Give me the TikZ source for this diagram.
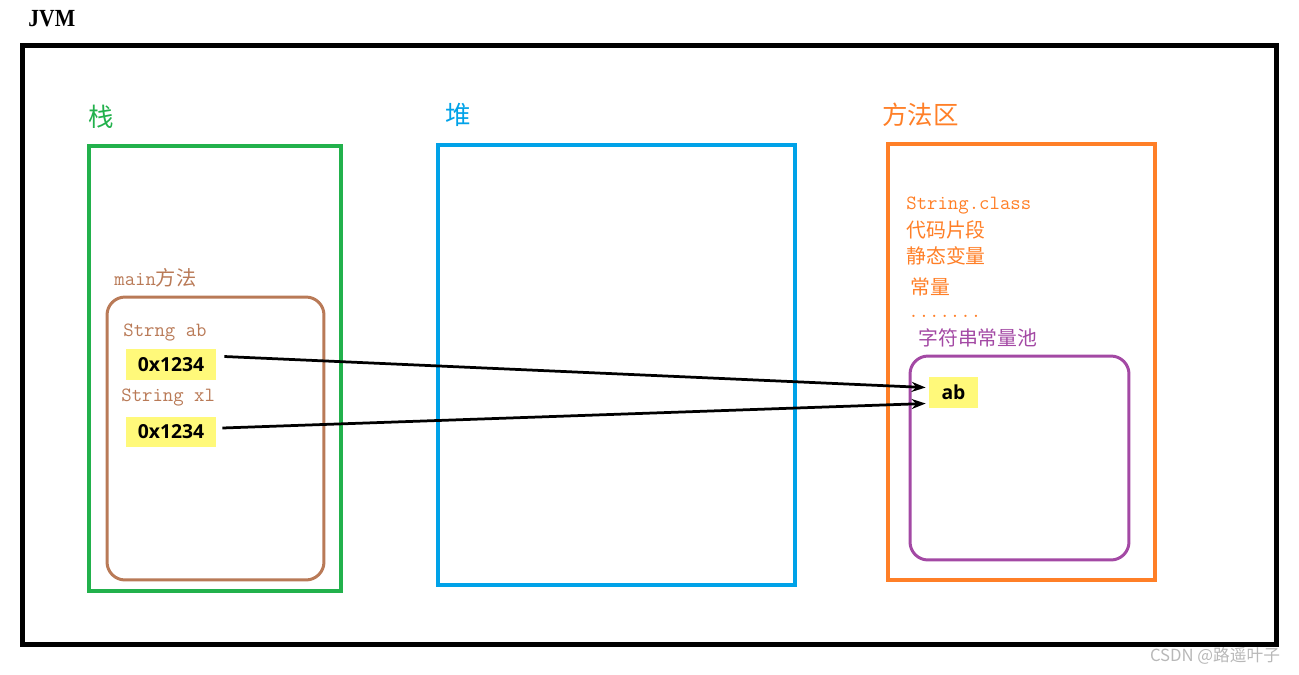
\documentclass[tikz,border=0pt]{standalone}
\usepackage{fontspec}
\setmainfont{Liberation Serif}
\newfontfamily\cjk{Noto Sans CJK SC}
\newfontfamily\cellfont{Open Sans}
\newfontfamily\jvmfont[FakeStretch=0.88]{Liberation Serif}
\usepackage{tikz}
\usetikzlibrary{positioning}
\usetikzlibrary{arrows.meta}
\definecolor{stackgreen}{HTML}{22B14C}
\definecolor{heapblue}{HTML}{00A2E8}
\definecolor{methodorange}{HTML}{FF7F27}
\definecolor{framebrown}{HTML}{B97A57}
\definecolor{poolpurple}{HTML}{A349A4}
\definecolor{cellyellow}{HTML}{FFF97A}
\tikzset{
    jvm diagram/.style={
            x=0.02cm,y=-0.02cm,
            area/.style={draw,line width=0.08cm,inner sep=0pt},
            frame/.style={draw,line width=0.06cm,rounded corners=0.36cm,inner sep=0pt},
            title/.style={font=\cjk\fontsize{14.5}{17}\selectfont,inner sep=0pt,anchor=west},
            code/.style={font=\ttfamily\fontsize{11.5}{13}\selectfont,inner sep=0pt,anchor=west},
            cjktext/.style={font=\cjk\fontsize{11.3}{13}\selectfont,inner sep=0pt,anchor=west},
            cell/.style={fill=cellyellow,font=\cellfont\bfseries\fontsize{11}{13}\selectfont,inner sep=0pt},
            ptr/.style={-{Stealth[length=0.28cm,width=0.2cm]},line width=0.055cm}
        }
    }
\begin{document}
\begin{tikzpicture}[jvm diagram]
    \useasboundingbox (0,0) rectangle (1299,674);
    \node[font=\jvmfont\bfseries\fontsize{14}{16}\selectfont,anchor=west,inner sep=0pt] (jvm) at (28,19) {JVM};
    \node[draw,line width=0.1cm,inner sep=0pt,minimum width=25.1cm,minimum height=12cm] (outer) at (649.5,345) {};
    % three areas
    \node[area,stackgreen,minimum width=5.04cm,minimum height=8.9cm] (stack) at (215,368.5) {};
    \node[area,heapblue,minimum width=7.14cm,minimum height=8.8cm] (heap) at (616.5,365) {};
    \node[area,methodorange,minimum width=5.34cm,minimum height=8.72cm] (method) at (1021.5,362) {};
    \node[title,stackgreen] (stacklbl) at (88,117) {栈};
    \node[title,heapblue] (heaplbl) at (445,115) {堆};
    \node[title,methodorange] (methodlbl) at (882,115) {方法区};
    % main frame
    \node[frame,framebrown,minimum width=4.34cm,minimum height=5.66cm] (mainfr) at (215.5,438.5) {};
    \node[code,framebrown] (mainlbl) at (114,278) {main{\cjk 方法}};
    \node[code,framebrown] (varab) at (123,333) {Strng ab};
    \node[cell,minimum width=1.8cm,minimum height=0.62cm] (addrab) at (171,364.5) {0x1234};
    \node[code,framebrown] (varxl) at (121,398) {String xl};
    \node[cell,minimum width=1.8cm,minimum height=0.6cm] (addrxl) at (171,432) {0x1234};
    % method area
    \node[code,methodorange] (cls) at (906,206) {String.class};
    \node[cjktext,methodorange] (snip) at (906,230) {代码片段};
    \node[cjktext,methodorange] (stat) at (906,256) {静态变量};
    \node[cjktext,methodorange] (const) at (910,287) {常量};
    \node[code,methodorange,anchor=base west] (dots) at (908,317) {.......};
    \node[cjktext,poolpurple] (poollbl) at (918,338) {字符串常量池};
    \node[frame,poolpurple,minimum width=4.38cm,minimum height=4.08cm] (pool) at (1019.5,458) {};
    \node[cell,minimum width=0.98cm,minimum height=0.62cm] (abval) at (953.5,392.5) {ab};
    % references
    \draw[ptr] ([shift={(8,-8)}]addrab.east) -- ([shift={(-3,-5)}]abval.west);
    \draw[ptr] ([shift={(6,-4)}]addrxl.east) -- ([shift={(-3,11)}]abval.west);
    \node[font=\cjk\fontsize{9.5}{11}\selectfont,text=black!28,inner sep=0pt] (mark) at (1215,656) {CSDN @路遥叶子};
\end{tikzpicture}
\end{document}
